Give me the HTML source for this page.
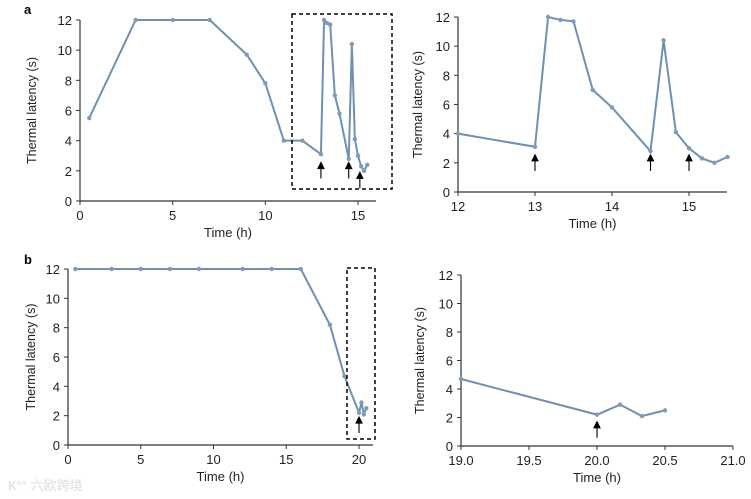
<!DOCTYPE html>
<html><head><meta charset="utf-8"><style>
html,body{margin:0;padding:0;background:#fff;}
svg{display:block;font-family:"Liberation Sans",sans-serif;}
</style></head><body>
<svg id="c" width="751" height="499" viewBox="0 0 751 499" xmlns="http://www.w3.org/2000/svg">
<text x="24" y="14" font-size="13" font-weight="bold">a</text>
<text x="24" y="264" font-size="13" font-weight="bold">b</text>
<text x="8" y="490" font-size="13" fill="#ddd" font-family="Liberation Sans, Noto Sans CJK SC, sans-serif">K°° 六欧跨境</text>
</svg>
<script>
const aLeftX = [0.5,3,5,7,9,10,11,12,13,13.17,13.33,13.5,13.75,14,14.5,14.67,14.83,15,15.17,15.33,15.5];
const aLeftY = [5.5,12,12,12,9.7,7.8,4,4,3.1,12,11.8,11.7,7,5.8,2.8,10.4,4.1,3,2.3,2.0,2.4];
const aRightX = [12,13,13.17,13.33,13.5,13.75,14,14.5,14.67,14.83,15,15.17,15.33,15.5];
const aRightY = [4,3.1,12,11.8,11.7,7,5.8,2.8,10.4,4.1,3,2.3,2.0,2.4];
const bLeftX = [0.5,3,5,7,9,12,14,16,18,19,20,20.17,20.33,20.5];
const bLeftY = [12,12,12,12,12,12,12,12,8.2,4.7,2.2,2.9,2.1,2.5];
const bRightX = [19,20,20.17,20.33,20.5];
const bRightY = [4.7,2.2,2.9,2.1,2.5];
const yTicks = [0,2,4,6,8,10,12];
const aLeftXTicks = [0,5,10,15];
const aRightXTicks = [12,13,14,15];
const bLeftXTicks = [0,5,10,15,20];
const bRightXTicks = [19.0,19.5,20.0,20.5,21.0];
const aLeftArrows = [13,14.5,15.1];
const aLeftArrowTops = [2.55,2.55,1.9];
const aRightArrows = [13,14.5,15];
const aRightArrowTops = [2.55,2.55,2.55];
const bLeftArrows = [20];
const bLeftArrowTops = [1.9];
const bRightArrows = [20];
const bRightArrowTops = [1.7];

const svg=document.getElementById('c');
const NS='http://www.w3.org/2000/svg';
function mk(tag,attrs,parent){const e=document.createElementNS(NS,tag);for(const k in attrs)e.setAttribute(k,attrs[k]);(parent||svg).appendChild(e);return e;}

function panel(name,cfg,xs,ys,xt,arrows,tops){
  const g=mk('g',{});
  
  
  const sx=v=>cfg.px0+(v-cfg.x0)*(cfg.px1-cfg.px0)/(cfg.x1-cfg.x0);
  const sy=v=>cfg.py0+(v)*(cfg.py12-cfg.py0)/12;
  const ax=mk('path',{d:`M${cfg.px0} ${sy(12)}V${cfg.py0}H${cfg.axEnd}`,stroke:'#333','stroke-width':1.2,fill:'none'},g);
  
  
  yTicks.forEach(t=>{
    mk('line',{x1:cfg.px0-4,x2:cfg.px0,y1:sy(t),y2:sy(t),stroke:'#333','stroke-width':1},g);
    const tx=mk('text',{x:cfg.px0-8,y:sy(t)+5,'font-size':13,'text-anchor':'end',fill:'#222'},g);
    tx.textContent=t;
    
    
  });
  xt.forEach(t=>{
    mk('line',{x1:sx(t),x2:sx(t),y1:cfg.py0,y2:cfg.py0+4,stroke:'#333','stroke-width':1},g);
    const tx=mk('text',{x:sx(t),y:cfg.py0+19,'font-size':13,'text-anchor':'middle',fill:'#222'},g);
    tx.textContent=cfg.dec?t.toFixed(1):t;
    
    
  });
  const xl=mk('text',{x:(cfg.px0+cfg.axEnd)/2,y:cfg.py0+36,'font-size':13,'text-anchor':'middle',fill:'#222'},g);
  xl.textContent='Time (h)';
  
  
  const cy=(cfg.py0+sy(12))/2;
  const yl=mk('text',{x:0,y:0,'font-size':12.5,'text-anchor':'middle',fill:'#222',transform:`translate(${cfg.labX},${cy}) rotate(-90)`},g);
  yl.textContent='Thermal latency (s)';
  
  
  const pts=xs.map((x,i)=>sx(x)+','+sy(ys[i])).join(' ');
  const pl=mk('polyline',{points:pts,fill:'none',stroke:'#6d91b3','stroke-width':2},g);
  
  
  xs.forEach((x,i)=>{
    const c=mk('circle',{cx:sx(x),cy:sy(ys[i]),r:2.2,fill:'#7f9bb8'},g);
    
    
  });
  arrows.forEach((a,i)=>{
    const top=sy(tops[i]), bot=top+16;
    const ar=mk('path',{d:`M${sx(a)} ${bot}V${top+5} M${sx(a)-3} ${top+6}L${sx(a)} ${top}L${sx(a)+3} ${top+6}Z`,stroke:'#000','stroke-width':1.1,fill:'#000'},g);
    
    
  });
  if(cfg.box){
    const b=mk('rect',{x:cfg.box[0],y:cfg.box[1],width:cfg.box[2],height:cfg.box[3],fill:'none',stroke:'#000','stroke-width':1.5,'stroke-dasharray':'4,3'},g);
    
    
  }
}
panel('chart-a-full',{px0:80,px1:358,x0:0,x1:15,py0:201,py12:20,axEnd:376,labX:36,box:[292,14,100,175]},aLeftX,aLeftY,aLeftXTicks,aLeftArrows,aLeftArrowTops);
panel('chart-a-zoom',{px0:458,px1:689,x0:12,x1:15,py0:192,py12:17,axEnd:727,labX:422},aRightX,aRightY,aRightXTicks,aRightArrows,aRightArrowTops);
panel('chart-b-full',{px0:68,px1:359,x0:0,x1:20,py0:445,py12:269,axEnd:373,labX:35,box:[347,268,28,171]},bLeftX,bLeftY,bLeftXTicks,bLeftArrows,bLeftArrowTops);
panel('chart-b-zoom',{px0:461,px1:733,x0:19,x1:21,py0:446,py12:275,axEnd:733,labX:424,dec:true},bRightX,bRightY,bRightXTicks,bRightArrows,bRightArrowTops);
</script>
</body></html>
